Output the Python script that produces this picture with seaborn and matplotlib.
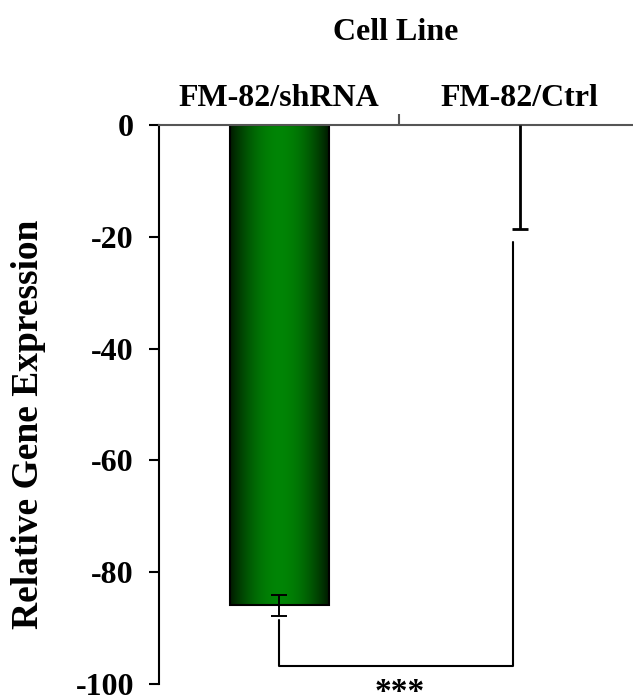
import numpy as np
import matplotlib
matplotlib.use("Agg")
import matplotlib.pyplot as plt
from matplotlib.ticker import FixedLocator
import seaborn as sns
import pandas as pd

categories = ["FM-82/shRNA", "FM-82/Ctrl"]
values = [-85.9, 0.0]
err_lower = [1.9, 18.6]
err_upper = [1.9, 0.0]
ytick_values = [0, -20, -40, -60, -80, -100]
bracket_y = [-88.6, -96.8, -20.9]
bracket_right_x = 0.971
sig_label = "***"

sns.set_theme(style="white")
plt.rcParams['font.family'] = ['Liberation Serif', 'DejaVu Serif']
plt.rcParams['font.weight'] = 'bold'
for k in ["text.color", "axes.labelcolor", "xtick.color", "ytick.color"]:
    plt.rcParams[k] = "black"

fig = plt.figure(figsize=(6.33, 6.99), dpi=100)
ax = fig.add_axes([159/633, 1-684/699, 1-159/633, (684-125)/699])

df = pd.DataFrame({"cell": categories, "value": values})
sns.barplot(data=df, x="cell", y="value", ax=ax, width=0.41, color="#008000",
            edgecolor="black", linewidth=1.5, errorbar=None, saturation=1)

# gradient fill for the first bar
p = ax.patches[0]
x0, w = p.get_x(), p.get_width()
y0, h = p.get_y(), p.get_height()
t = np.linspace(0, 1, 256)
prof = np.sin(np.pi * t) ** 0.9
dark = np.array([0.0, 0.10, 0.0])
bright = np.array([0.0, 0.52, 0.02])
cols = dark[None, :] + (bright - dark)[None, :] * prof[:, None]
img = cols[None, :, :]
ax.imshow(img, extent=[x0, x0 + w, min(y0, y0 + h), max(y0, y0 + h)],
          aspect="auto", zorder=p.get_zorder() + 0.1, interpolation="bilinear")
p.set_facecolor("none")
p.set_zorder(p.get_zorder() + 0.2)
ax.patches[1].set_linewidth(0)

# error bars
for i, (lo, up, lw) in enumerate(zip(err_lower, err_upper, [1.4, 2.0])):
    cont = ax.errorbar([i], [values[i]], yerr=[[lo], [up]], fmt="none", ecolor="black",
                       elinewidth=lw, capsize=5.8, capthick=lw, zorder=5)
    if up == 0:
        for cl in cont[1]:
            if np.allclose(cl.get_ydata(), values[i]):
                cl.set_visible(False)

# significance bracket
ax.plot([0, 0, bracket_right_x, bracket_right_x],
        [bracket_y[0], bracket_y[1], bracket_y[1], bracket_y[2]],
        color="black", lw=1.5, clip_on=False, zorder=5)
ax.text(0.5, -101.6, sig_label, ha="center", va="center", fontsize=24,
        fontweight="bold", clip_on=False)

ax.set_ylim(-100, 0)
ax.set_xlim(-0.5, 1.471)

ax.xaxis.tick_top()
ax.xaxis.set_label_position("top")
ax.set_xticks([0, 1])
ax.set_xticklabels(categories, fontsize=23, fontweight="bold")
ax.tick_params(axis="x", which="major", length=0, pad=9)
ax.xaxis.set_minor_locator(FixedLocator([0.5]))
ax.tick_params(axis="x", which="minor", top=True, length=8, width=1.5,
               direction="out", color="#555555")
ax.set_xlabel("Cell Line", fontsize=23, fontweight="bold", labelpad=31)

ax.set_yticks(ytick_values)
ax.set_yticklabels([str(v) for v in ytick_values], fontsize=23, fontweight="bold")
ax.tick_params(axis="y", length=7, width=1.5, direction="out", left=True, pad=11,
               color="black")
ax.set_ylabel("Relative Gene Expression", fontsize=27, fontweight="bold")
ax.yaxis.set_label_coords(-0.238, 0.465)

for s in ["bottom", "right"]:
    ax.spines[s].set_visible(False)
ax.spines["top"].set_color("#555555")
ax.spines["top"].set_linewidth(1.5)
ax.spines["left"].set_color("black")
ax.spines["left"].set_linewidth(1.5)

fig.savefig("out.png", dpi=100)
